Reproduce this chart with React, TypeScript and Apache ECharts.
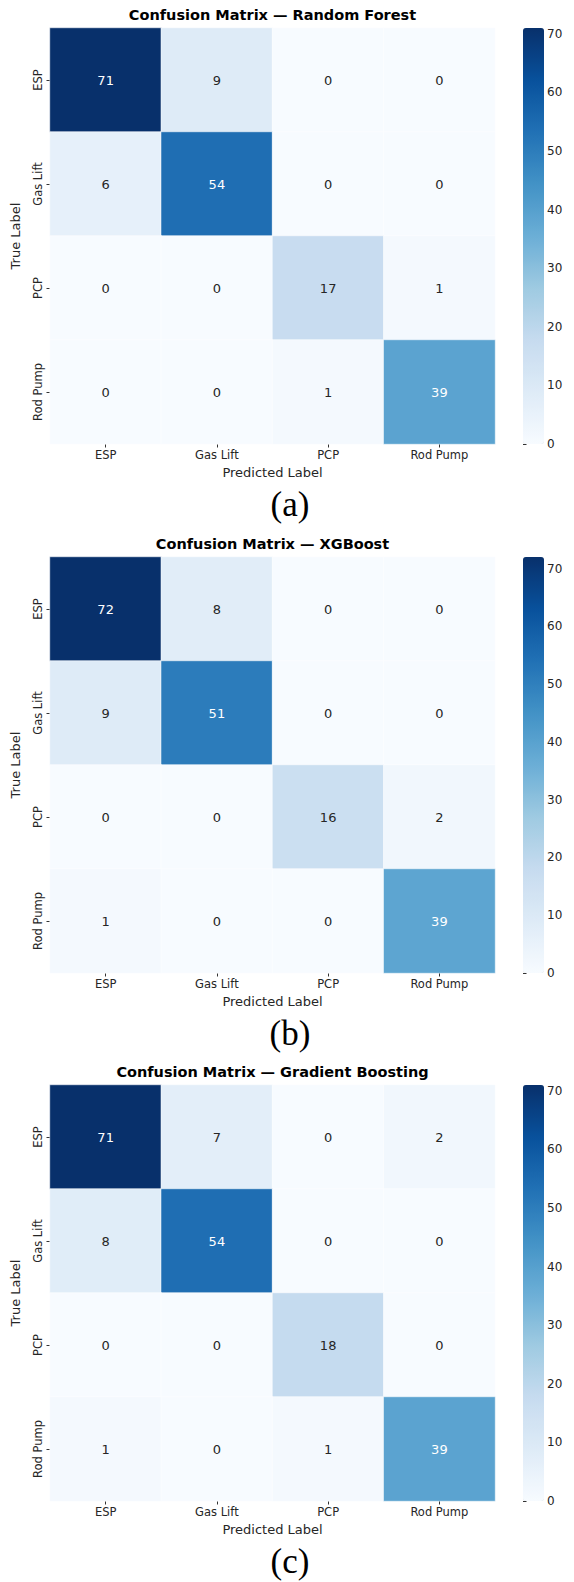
import React, { useEffect, useRef } from "react";
import * as echarts from "echarts";

const categories = ["ESP", "Gas Lift", "PCP", "Rod Pump"];
const titles = [
  "Confusion Matrix — Random Forest",
  "Confusion Matrix — XGBoost",
  "Confusion Matrix — Gradient Boosting",
];
const captions = ["(a)", "(b)", "(c)"];
const matrixRF = [
  [71, 9, 0, 0],
  [6, 54, 0, 0],
  [0, 0, 17, 1],
  [0, 0, 1, 39],
];
const matrixXGB = [
  [72, 8, 0, 0],
  [9, 51, 0, 0],
  [0, 0, 16, 2],
  [1, 0, 0, 39],
];
const matrixGB = [
  [71, 7, 0, 2],
  [8, 54, 0, 0],
  [0, 0, 18, 0],
  [1, 0, 1, 39],
];
const colorbarTicks = [0, 10, 20, 30, 40, 50, 60, 70];
const blues = ["#f7fbff", "#deebf7", "#c6dbef", "#9ecae1", "#6baed6", "#4292c6", "#2171b5", "#08519c", "#08306b"];

const matrices = [matrixRF, matrixXGB, matrixGB];
const panelTops = [28, 557, 1085];
const GRID_LEFT = 50;
const GRID_W = 445;
const GRID_H = 416;
const CB_LEFT = 523;
const CB_W = 21;
const FONT = "DejaVu Sans";

export default function App() {
  const ref = useRef<HTMLDivElement>(null);
  useEffect(() => {
    document.body.style.margin = "0";
    if (!ref.current) return;
    const chart = echarts.init(ref.current, null, { renderer: "svg" });
    const grid: any[] = [];
    const xAxis: any[] = [];
    const yAxis: any[] = [];
    const series: any[] = [];
    const visualMap: any[] = [];
    const title: any[] = [];
    const graphic: any[] = [];

    matrices.forEach((m, p) => {
      const top = panelTops[p];
      const vmax = Math.max(...m.flat());
      grid.push({ left: GRID_LEFT, top, width: GRID_W, height: GRID_H });
      grid.push({ left: CB_LEFT, top, width: CB_W, height: GRID_H });
      const gi = p * 2;
      xAxis.push({
        type: "category",
        gridIndex: gi,
        data: categories,
        name: "Predicted Label",
        nameLocation: "middle",
        nameGap: 22,
        nameTextStyle: { fontFamily: FONT, fontSize: 13, color: "#262626" },
        axisLine: { show: false },
        axisTick: { show: true, alignWithLabel: true, length: 3.5, lineStyle: { color: "#333" } },
        axisLabel: { fontFamily: FONT, fontSize: 11.5, color: "#262626", margin: 5 },
        splitLine: { show: false },
      });
      yAxis.push({
        type: "category",
        gridIndex: gi,
        data: categories,
        inverse: true,
        name: "True Label",
        nameLocation: "middle",
        nameGap: 28,
        nameTextStyle: { fontFamily: FONT, fontSize: 13, color: "#262626" },
        axisLine: { show: false },
        axisTick: { show: true, alignWithLabel: true, length: 3.5, lineStyle: { color: "#333" } },
        axisLabel: { fontFamily: FONT, fontSize: 11.5, color: "#262626", rotate: 90, margin: 6 },
        splitLine: { show: false },
      });
      xAxis.push({
        type: "value",
        gridIndex: gi + 1,
        min: 0,
        max: 1,
        show: false,
      });
      yAxis.push({
        type: "value",
        gridIndex: gi + 1,
        min: 0,
        max: vmax,
        position: "right",
        axisLine: { show: false },
        splitLine: { show: false },
        axisTick: { show: true, length: 3.5, lineStyle: { color: "#333" }, customValues: colorbarTicks },
        axisLabel: { fontFamily: FONT, fontSize: 12, color: "#262626", margin: 3, customValues: colorbarTicks },
      });
      const data: any[] = [];
      m.forEach((row, yi) =>
        row.forEach((v, xi) => {
          data.push({
            value: [xi, yi, v],
            label: { color: v / vmax > 0.45 ? "#ffffff" : "#262626" },
          });
        })
      );
      series.push({
        type: "heatmap",
        xAxisIndex: gi,
        yAxisIndex: gi,
        data,
        itemStyle: { borderColor: "#ffffff", borderWidth: 0.5 },
        label: { show: true, fontFamily: FONT, fontSize: 13 },
        emphasis: { disabled: true },
      });
      series.push({
        type: "scatter",
        xAxisIndex: gi + 1,
        yAxisIndex: gi + 1,
        data: [],
      });
      visualMap.push({
        type: "continuous",
        seriesIndex: p * 2,
        min: 0,
        max: vmax,
        calculable: false,
        left: CB_LEFT,
        top,
        padding: 0,
        itemWidth: CB_W,
        itemHeight: GRID_H,
        text: ["", ""],
        showLabel: false,
        inRange: { color: blues },
        hoverLink: false,
      });
      title.push({
        text: titles[p],
        left: GRID_LEFT + GRID_W / 2,
        textAlign: "center",
        top: top - 21,
        padding: 0,
        textStyle: { fontFamily: FONT, fontSize: 14.5, fontWeight: "bold", color: "#000" },
      });
      graphic.push({
        type: "text",
        x: 290,
        y: top + GRID_H + 60,
        style: {
          text: captions[p],
          font: '35px "Liberation Serif"',
          fill: "#000",
          textAlign: "center",
          textVerticalAlign: "middle",
        },
      });
    });

    chart.setOption({
      animation: false,
      backgroundColor: "#ffffff",
      title,
      grid,
      xAxis,
      yAxis,
      visualMap,
      series,
      graphic,
    });
    return () => chart.dispose();
  }, []);
  return <div ref={ref} style={{ width: 574, height: 1582 }} />;
}
